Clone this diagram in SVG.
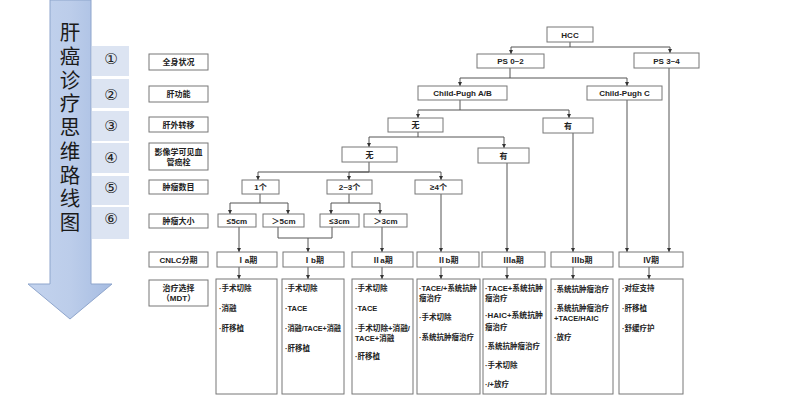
<svg xmlns="http://www.w3.org/2000/svg" width="800" height="400" viewBox="0 0 800 400">
<defs>
<linearGradient id="ag" x1="0" y1="0" x2="1" y2="0">
<stop offset="0" stop-color="#c3d3ee"/><stop offset="0.5" stop-color="#bccdea"/><stop offset="1" stop-color="#a6bce2"/>
</linearGradient>
<marker id="ah" viewBox="0 0 6 6" refX="6" refY="3" markerWidth="4" markerHeight="4" orient="auto" markerUnits="userSpaceOnUse"><path d="M0,0 L6,3 L0,6 z" fill="#333"/></marker>
<style>
.bx{fill:#fff;stroke:#777;stroke-width:1}
.t{font-family:"Liberation Sans","Noto Sans CJK SC",sans-serif;font-size:8px;font-weight:bold;fill:#222;text-anchor:middle}
.l{font-family:"Liberation Sans","Noto Sans CJK SC",sans-serif;font-size:7.5px;font-weight:bold;fill:#222}
.c{fill:none;stroke:#555;stroke-width:1;marker-end:url(#ah)}
.n{fill:none;stroke:#555;stroke-width:1}
.pn{fill:#dce4f2}
.num{font-family:"DejaVu Sans",sans-serif;font-size:15px;fill:#222;text-anchor:middle}
.v{font-family:"Noto Sans CJK SC",sans-serif;font-size:20.5px;fill:#1a1a1a;writing-mode:vertical-rl;letter-spacing:3.25px}
</style>
</defs>
<rect width="800" height="400" fill="#fff"/>

<g id="bigarrow">
<path d="M50,0 H91 V284 H112 L70,319 L28,284 H50 Z" fill="url(#ag)" stroke="#8ea5cc" stroke-width="1"/>
<text class="v" x="70" y="22">肝癌诊疗思维路线图</text>
</g>

<g id="steps">
<rect class="pn" x="92" y="46" width="37" height="30"/>
<rect class="pn" x="92" y="79" width="37" height="29"/>
<rect class="pn" x="92" y="111" width="37" height="30"/>
<rect class="pn" x="92" y="143" width="37" height="30"/>
<rect class="pn" x="92" y="176" width="37" height="29"/>
<rect class="pn" x="92" y="207" width="37" height="32"/>
<text class="num" x="111" y="64">①</text>
<text class="num" x="111" y="100">②</text>
<text class="num" x="111" y="131">③</text>
<text class="num" x="111" y="163">④</text>
<text class="num" x="111" y="193">⑤</text>
<text class="num" x="111" y="224">⑥</text>
</g>

<g id="labels">
<rect class="bx" x="149" y="54" width="59" height="16"/><text class="t" x="178.5" y="65">全身状况</text>
<rect class="bx" x="149" y="86" width="59" height="16"/><text class="t" x="178.5" y="97">肝功能</text>
<rect class="bx" x="149" y="117" width="59" height="15"/><text class="t" x="178.5" y="127.5">肝外转移</text>
<rect class="bx" x="149" y="143" width="59" height="27"/><text class="t" x="178.5" y="155">影像学可见血</text><text class="t" x="178.5" y="165">管癌栓</text>
<rect class="bx" x="149" y="180" width="59" height="14"/><text class="t" x="178.5" y="190">肿瘤数目</text>
<rect class="bx" x="149" y="214" width="59" height="14"/><text class="t" x="178.5" y="224">肿瘤大小</text>
<rect class="bx" x="149" y="252" width="59" height="15"/><text class="t" x="178.5" y="262.5">CNLC分期</text>
<rect class="bx" x="149" y="280" width="59" height="26"/><text class="t" x="178.5" y="291">治疗选择</text><text class="t" x="178.5" y="301">（MDT）</text>
</g>

<g id="connectors">
<path class="c" d="M570,42 V47 H511 V54"/>
<path class="c" d="M570,47 H670 V53"/>
<path class="c" d="M510,68 V78 H460 V86"/>
<path class="c" d="M510,78 H627 V86"/>
<path class="c" d="M460,100 V110 H418 V118"/>
<path class="c" d="M460,110 H569 V118"/>
<path class="c" d="M418,132 V137 H369 V147"/>
<path class="c" d="M418,137 H504 V148"/>
<path class="c" d="M369,162 V172 H258 V180"/>
<path class="c" d="M369,172 H349 V180"/>
<path class="c" d="M369,172 H441 V180"/>
<path class="c" d="M260,194 V203 H230 V214"/>
<path class="c" d="M260,203 H288 V214"/>
<path class="c" d="M349,194 V203 H331 V214"/>
<path class="c" d="M349,203 H380 V214"/>
<path class="c" d="M239,227 V252"/>
<path class="n" d="M278,227 V238 H332 V227"/>
<path class="c" d="M308,238 V252"/>
<path class="c" d="M382,227 V252"/>
<path class="c" d="M441,194 V252"/>
<path class="c" d="M507,163 V252"/>
<path class="c" d="M573,133 V252"/>
<path class="c" d="M627,100 V252"/>
<path class="c" d="M669,68 V252"/>
<path class="c" d="M239,267 V279"/>
<path class="c" d="M308,267 V279"/>
<path class="c" d="M382,267 V279"/>
<path class="c" d="M441,267 V279"/>
<path class="c" d="M507,267 V279"/>
<path class="c" d="M573,267 V279"/>
<path class="c" d="M649,267 V279"/>
</g>

<g id="hcc"><rect class="bx" x="547" y="27" width="46" height="15"/><text class="t" x="570" y="37.5">HCC</text></g>
<g id="ps02"><rect class="bx" x="477" y="54" width="67" height="14"/><text class="t" x="510.5" y="64">PS  0~2</text></g>
<g id="ps34"><rect class="bx" x="634" y="53" width="65" height="15"/><text class="t" x="666.5" y="63.5">PS  3~4</text></g>
<g id="cpab"><rect class="bx" x="418" y="86" width="89" height="14"/><text class="t" x="462.5" y="96">Child-Pugh A/B</text></g>
<g id="cpc"><rect class="bx" x="587" y="86" width="75" height="14"/><text class="t" x="624.5" y="96">Child-Pugh C</text></g>
<g id="ehs-no"><rect class="bx" x="388" y="118" width="55" height="14"/><text class="t" x="415.5" y="128">无</text></g>
<g id="ehs-yes"><rect class="bx" x="543" y="118" width="50" height="15"/><text class="t" x="568" y="128.5">有</text></g>
<g id="mvi-no"><rect class="bx" x="342" y="147" width="55" height="15"/><text class="t" x="369.5" y="157.5">无</text></g>
<g id="mvi-yes"><rect class="bx" x="478" y="148" width="51" height="15"/><text class="t" x="503.5" y="158.5">有</text></g>
<g id="n1"><rect class="bx" x="242" y="180" width="37" height="14"/><text class="t" x="260.5" y="190">1个</text></g>
<g id="n23"><rect class="bx" x="327" y="180" width="45" height="14"/><text class="t" x="349.5" y="190">2~3个</text></g>
<g id="n4"><rect class="bx" x="415" y="180" width="47" height="14"/><text class="t" x="438.5" y="190">≥4个</text></g>
<g id="s1"><rect class="bx" x="218" y="214" width="38" height="13"/><text class="t" x="237" y="223.5">≤5cm</text></g>
<g id="s2"><rect class="bx" x="263" y="214" width="41" height="13"/><text class="t" x="283.5" y="223.5">＞5cm</text></g>
<g id="s3"><rect class="bx" x="320" y="214" width="39" height="13"/><text class="t" x="339.5" y="223.5">≤3cm</text></g>
<g id="s4"><rect class="bx" x="364" y="214" width="43" height="13"/><text class="t" x="385.5" y="223.5">＞3cm</text></g>

<g id="ia"><rect class="bx" x="217" y="252" width="60" height="15"/><text class="t" x="247" y="262.5">Ⅰa期</text></g>
<g id="ib"><rect class="bx" x="283" y="252" width="61" height="15"/><text class="t" x="313.5" y="262.5">Ⅰb期</text></g>
<g id="iia"><rect class="bx" x="352" y="252" width="61" height="15"/><text class="t" x="382.5" y="262.5">Ⅱa期</text></g>
<g id="iib"><rect class="bx" x="417" y="252" width="62" height="15"/><text class="t" x="448" y="262.5">Ⅱb期</text></g>
<g id="iiia"><rect class="bx" x="482" y="252" width="63" height="15"/><text class="t" x="513.5" y="262.5">Ⅲa期</text></g>
<g id="iiib"><rect class="bx" x="551" y="252" width="62" height="15"/><text class="t" x="582" y="262.5">Ⅲb期</text></g>
<g id="iv"><rect class="bx" x="619" y="252" width="64" height="15"/><text class="t" x="651" y="262.5">Ⅳ期</text></g>

<g id="tx-ia"><rect class="bx" x="216" y="279" width="61" height="115"/>
<text class="l" x="219" y="291">·手术切除</text><text class="l" x="219" y="311">·消融</text><text class="l" x="219" y="331">·肝移植</text></g>
<g id="tx-ib"><rect class="bx" x="282" y="279" width="62" height="115"/>
<text class="l" x="285" y="291">·手术切除</text><text class="l" x="285" y="311">·TACE</text><text class="l" x="285" y="331" textLength="56" lengthAdjust="spacingAndGlyphs">·消融/TACE+消融</text><text class="l" x="285" y="351">·肝移植</text></g>
<g id="tx-iia"><rect class="bx" x="352" y="279" width="61" height="115"/>
<text class="l" x="355" y="291">·手术切除</text><text class="l" x="355" y="311">·TACE</text><text class="l" x="355" y="331" textLength="55" lengthAdjust="spacingAndGlyphs">·手术切除+消融/</text><text class="l" x="355" y="341">TACE+消融</text><text class="l" x="355" y="359">·肝移植</text></g>
<g id="tx-iib"><rect class="bx" x="417" y="279" width="63" height="115"/>
<text class="l" x="419" y="291" textLength="58" lengthAdjust="spacingAndGlyphs">·TACE/+系统抗肿</text><text class="l" x="419" y="301">瘤治疗</text><text class="l" x="419" y="320">·手术切除</text><text class="l" x="419" y="340">·系统抗肿瘤治疗</text></g>
<g id="tx-iiia"><rect class="bx" x="483" y="279" width="63" height="115"/>
<text class="l" x="485" y="291" textLength="58" lengthAdjust="spacingAndGlyphs">·TACE+系统抗肿</text><text class="l" x="485" y="301">瘤治疗</text><text class="l" x="485" y="318" textLength="58" lengthAdjust="spacingAndGlyphs">·HAIC+系统抗肿</text><text class="l" x="485" y="330">瘤治疗</text><text class="l" x="485" y="349">·系统抗肿瘤治疗</text><text class="l" x="485" y="368">·手术切除</text><text class="l" x="485" y="387">·/+放疗</text></g>
<g id="tx-iiib"><rect class="bx" x="551" y="279" width="62" height="115"/>
<text class="l" x="554" y="292">·系统抗肿瘤治疗</text><text class="l" x="554" y="311">·系统抗肿瘤治疗</text><text class="l" x="554" y="321">+TACE/HAIC</text><text class="l" x="554" y="340">·放疗</text></g>
<g id="tx-iv"><rect class="bx" x="619" y="279" width="64" height="115"/>
<text class="l" x="622" y="291">·对症支持</text><text class="l" x="622" y="311">·肝移植</text><text class="l" x="622" y="331">·舒缓疗护</text></g>
</svg>
